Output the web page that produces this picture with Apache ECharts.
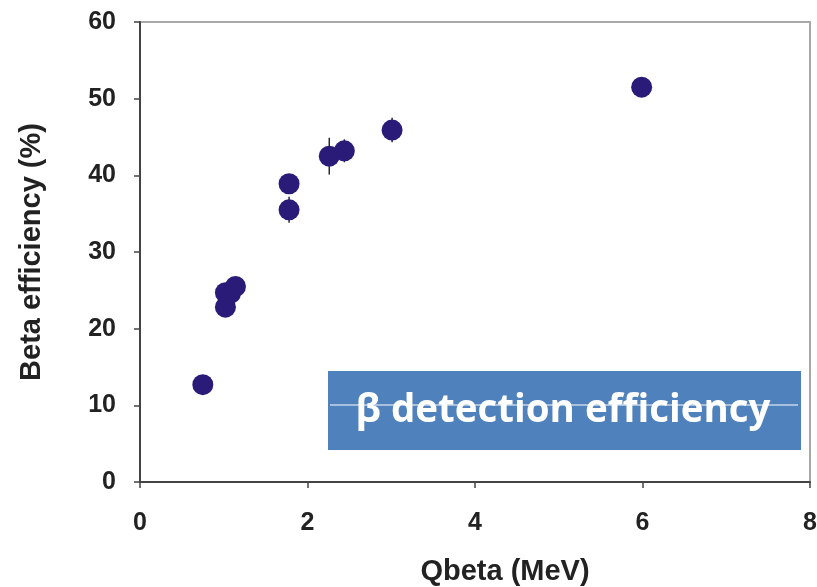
<!DOCTYPE html>
<html>
<head>
<meta charset="utf-8">
<script src="https://cdn.jsdelivr.net/npm/echarts@6/dist/echarts.min.js"></script>
<style>
  html, body { margin: 0; padding: 0; background: #fff; }
  #chart { width: 817px; height: 587px; }
</style>
</head>
<body>
<div id="chart"></div>
<script>
// Qbeta (MeV) vs beta efficiency (%)
const qbeta = [0.75, 1.02, 1.02, 1.08, 1.14, 1.78, 1.78, 2.26, 2.44, 3.01, 5.99];
const efficiency = [12.7, 24.7, 22.8, 24.6, 25.5, 38.9, 35.5, 42.5, 43.2, 45.9, 51.5];
const effError = [1.0, 1.0, 1.0, 1.0, 1.0, 1.0, 1.7, 2.4, 1.5, 1.6, 1.2];

const xTicks = [0, 2, 4, 6, 8];
const yTicks = [0, 10, 20, 30, 40, 50, 60];

const points = qbeta.map((x, i) => [x, efficiency[i]]);
const bars = qbeta.map((x, i) => [x, efficiency[i] - effError[i], efficiency[i] + effError[i]]);

const chart = echarts.init(document.getElementById('chart'));

const labelFont = 'Liberation Sans, Arial, sans-serif';

chart.setOption({
  animation: false,
  grid: {
    left: 140, right: 7, top: 22, bottom: 105,
    outerBoundsMode: 'none',
    show: true,
    borderColor: '#a8a8a8',
    borderWidth: 2
  },
  xAxis: {
    type: 'value',
    min: xTicks[0],
    max: xTicks[xTicks.length - 1],
    interval: 2,
    name: 'Qbeta (MeV)',
    nameLocation: 'middle',
    nameGap: 75,
    nameTextStyle: {
      fontFamily: labelFont, fontWeight: 'bold', fontSize: 29, color: '#222',
      padding: [0, 0, 0, 60]
    },
    axisLine: { lineStyle: { color: '#444', width: 2 } },
    axisTick: { show: true, length: 6, lineStyle: { color: '#444', width: 1.5 } },
    axisLabel: { fontFamily: labelFont, fontWeight: 'bold', fontSize: 25, color: '#222', margin: 29 },
    splitLine: { show: false }
  },
  yAxis: {
    type: 'value',
    min: yTicks[0],
    max: yTicks[yTicks.length - 1],
    interval: 10,
    name: 'Beta efficiency (%)',
    nameLocation: 'middle',
    nameGap: 94,
    nameTextStyle: { fontFamily: labelFont, fontWeight: 'bold', fontSize: 29, color: '#222' },
    axisLine: { lineStyle: { color: '#444', width: 2 } },
    axisTick: { show: true, length: 6, lineStyle: { color: '#444', width: 1.5 } },
    axisLabel: { fontFamily: labelFont, fontWeight: 'bold', fontSize: 25, color: '#222', margin: 24 },
    splitLine: { show: false }
  },
  series: [
    {
      type: 'custom',
      data: bars,
      z: 2,
      renderItem: function (params, api) {
        const x = api.value(0);
        const lo = api.coord([x, api.value(1)]);
        const hi = api.coord([x, api.value(2)]);
        return {
          type: 'line',
          shape: { x1: lo[0], y1: lo[1], x2: hi[0], y2: hi[1] },
          style: { stroke: '#2a2440', lineWidth: 1.5 }
        };
      }
    },
    {
      type: 'scatter',
      data: points,
      z: 3,
      symbol: 'circle',
      symbolSize: 21,
      itemStyle: { color: '#2b1b78', opacity: 1 }
    }
  ],
  graphic: [
    {
      type: 'rect',
      z: 10,
      shape: { x: 328, y: 371, width: 473, height: 79 },
      style: { fill: '#4f81bd' }
    },
    {
      type: 'line',
      z: 12,
      shape: { x1: 330, y1: 405, x2: 798, y2: 405 },
      style: { stroke: '#ffffff', lineWidth: 1 }
    },
    {
      type: 'text',
      z: 11,
      x: 563,
      y: 411,
      style: {
        text: 'β detection efficiency',
        fill: '#ffffff',
        font: 'bold 38.5px "Open Sans", Lato, sans-serif',
        textAlign: 'center',
        textVerticalAlign: 'middle'
      }
    }
  ]
});
</script>
</body>
</html>
